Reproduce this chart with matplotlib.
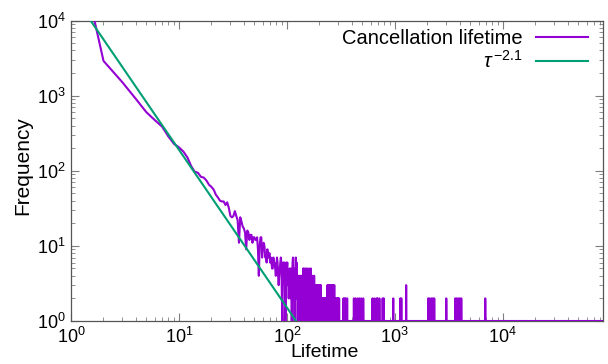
import matplotlib
matplotlib.use("Agg")  # headless backend
import matplotlib.pyplot as plt
import numpy as np
from matplotlib.ticker import LogLocator, LogFormatterMathtext, NullFormatter

# frequency of cancellation lifetimes 1..210
head_freq = [
    250000, 2900, 1500, 900, 600, 470, 385, 285, 228, 205,
    180, 150, 115, 97, 94, 83, 81, 74, 65, 61,
    56, 48, 44, 40, 39, 39, 35, 38, 32, 25,
    24, 25, 29, 25, 22, 11, 24, 21, 18, 17,
    15, 9, 16, 15, 12, 14, 14, 11, 13, 13,
    12, 12, 13, 9, 4, 10, 13, 13, 7, 10,
    11, 10, 7, 7, 6, 9, 7, 7, 8, 6,
    7, 6, 5, 5, 7, 6, 6, 5, 4, 5,
    7, 6, 4, 3, 4, 5, 6, 7, 6, 2,
    1, 5, 6, 4, 6, 3, 1, 2, 6, 5,
    6, 3, 4, 2, 3, 5, 4, 2, 5, 4,
    1, 3, 6, 7, 2, 4, 3, 1, 5, 2,
    7, 3, 6, 2, 4, 1, 3, 4, 2, 3,
    4, 1, 2, 4, 3, 2, 1, 4, 2, 3,
    1, 5, 2, 3, 5, 1, 2, 4, 3, 5,
    2, 1, 3, 5, 2, 4, 1, 2, 3, 1,
    5, 2, 3, 1, 4, 2, 5, 1, 2, 4,
    1, 3, 2, 4, 1, 2, 3, 1, 4, 2,
    1, 3, 2, 1, 3, 1, 2, 3, 1, 2,
    3, 1, 2, 1, 3, 2, 1, 1, 3, 1,
    2, 3, 1, 1, 2, 1, 3, 1, 1, 2,
]

# sparse tail: lifetimes above 210 whose frequency is above 1
spike_lifetimes = [
    212, 215, 216, 220, 223, 226, 228, 232, 235, 238, 241, 242, 244, 248,
    250, 252, 254, 256, 259, 261, 264, 266, 269, 273, 275, 278, 281, 287,
    293, 296, 299, 305, 335, 342, 350, 362, 418, 432, 452, 470, 488, 510,
    622, 648, 680, 692, 720, 772, 790, 968, 1125, 1150, 1275, 2040, 2100,
    2180, 2250, 2320, 3000, 3640, 3750, 3880, 4000, 4130, 6890,
]
spike_counts = [
    2, 2, 2, 2, 2, 2, 2, 2, 2, 3, 2, 3, 3, 2,
    3, 2, 2, 3, 2, 3, 2, 3, 3, 2, 3, 2, 2, 2,
    2, 2, 2, 2, 2, 2, 2, 2, 2, 2, 2, 2, 2, 2,
    2, 2, 2, 2, 2, 2, 2, 2, 2, 2, 3, 2, 2,
    2, 2, 2, 2, 2, 2, 2, 2, 2, 2,
]
max_lifetime = 85000

# power-law guide tau^-2.1
fit_coef = 2.4e4
fit_exp = -2.1
fit_range = [1.0, 300.0]

plt.rcParams["font.family"] = ["Liberation Sans", "DejaVu Sans"]
plt.rcParams["mathtext.fontset"] = "custom"
plt.rcParams["mathtext.rm"] = "Liberation Sans"
plt.rcParams["mathtext.it"] = "Liberation Sans:italic"
plt.rcParams["mathtext.bf"] = "Liberation Sans:bold"

lifetime = np.arange(1, max_lifetime + 1)
freq = np.ones(max_lifetime)
freq[:len(head_freq)] = head_freq
freq[np.array(spike_lifetimes) - 1] = spike_counts

fig = plt.figure(figsize=(6.08, 3.64), dpi=100)
ax = fig.add_axes([71 / 608, 1 - 321 / 364, 532 / 608, 300.5 / 364])

ax.plot(lifetime, freq, color="#9400d3", lw=1.5,
        label="Cancellation lifetime", zorder=3)
fit_x = np.array(fit_range)
ax.plot(fit_x, fit_coef * fit_x ** fit_exp, color="#009e73", lw=1.5,
        label=r"$\tau^{\,\mathrm{-2.1}}$", zorder=4)

ax.set_xscale("log")
ax.set_yscale("log")
ax.set_xlim(1, max_lifetime)
ax.set_ylim(1, 1e4)

for axis in (ax.xaxis, ax.yaxis):
    axis.set_major_locator(LogLocator(base=10, numticks=12))
    axis.set_minor_locator(LogLocator(base=10, subs=np.arange(2, 10), numticks=12))
    axis.set_major_formatter(LogFormatterMathtext())
    axis.set_minor_formatter(NullFormatter())

ax.tick_params(which="both", direction="in", top=True, right=True,
               color="#7f7f7f", labelcolor="black", labelsize=13)
ax.tick_params(which="major", length=6, width=0.8)
ax.tick_params(which="minor", length=3, width=0.6)
ax.tick_params(axis="y", which="major", pad=4)
ax.tick_params(axis="x", which="major", pad=4.5)
for sp in ax.spines.values():
    sp.set_color("#555555")
    sp.set_linewidth(0.9)

ax.set_xlabel("Lifetime", fontsize=14)
ax.set_ylabel("Frequency", fontsize=15)
ax.xaxis.set_label_coords(0.477, -0.075)
ax.yaxis.set_label_coords(-0.072, 0.516)

ax.legend(loc="upper right", bbox_to_anchor=(0.972, 0.972), frameon=False,
          markerfirst=False, fontsize=14.5, handlelength=2.6,
          handletextpad=0.65, borderpad=0.0, borderaxespad=0.0,
          labelspacing=0.1)

fig.savefig("out.png", dpi=100)
